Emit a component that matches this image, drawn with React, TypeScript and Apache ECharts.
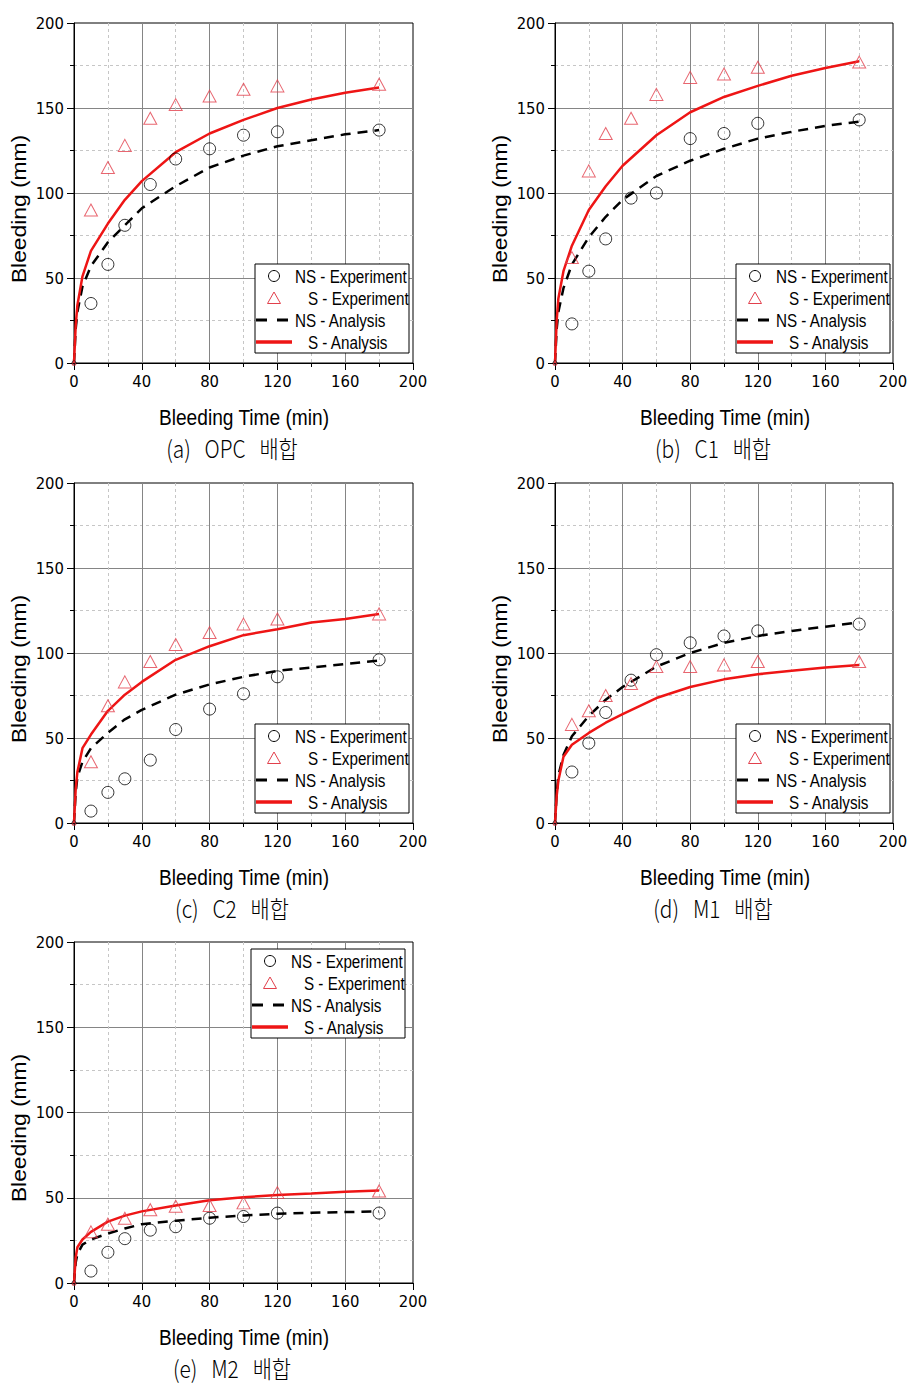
import React, { useEffect, useRef } from "react";
import * as echarts from "echarts";

// ---------- data ----------
const T_EXP = [0, 10, 20, 30, 45, 60, 80, 100, 120, 180];
const T_ANA = [0, 1, 2, 5, 10, 20, 30, 40, 60, 80, 100, 120, 140, 160, 180];

const OPC_NS_EXP = [0, 35, 58, 81, 105, 120, 126, 134, 136, 137];
const OPC_S_EXP = [0, 90, 115, 128, 144, 152, 157, 161, 163, 164];
const OPC_NS_ANA = [0, 20, 30, 45, 57, 71, 81, 91, 104, 115, 122, 127.5, 131, 134.5, 137];
const OPC_S_ANA = [0, 22, 34, 51, 66, 82, 96, 107, 124, 135, 143, 150, 155, 159, 162];

const C1_NS_EXP = [0, 23, 54, 73, 97, 100, 132, 135, 141, 143];
const C1_S_EXP = [0, 62, 113, 135, 144, 158, 168, 170, 174, 177];
const C1_NS_ANA = [0, 20, 30, 44, 58, 74, 86, 96, 110, 119, 126, 132, 136, 139.5, 142];
const C1_S_ANA = [0, 25, 38, 54, 69, 90, 104, 116, 134, 147.5, 156.5, 163, 169, 173.5, 177.5];

const C2_NS_EXP = [0, 7, 18, 26, 37, 55, 67, 76, 86, 96];
const C2_S_EXP = [0, 36, 69, 83, 95, 105, 112, 117, 120, 123];
const C2_NS_ANA = [0, 18, 27, 36, 44, 53, 61, 66.5, 75.5, 81.5, 86, 89.5, 91.5, 93.5, 95.5];
const C2_S_ANA = [0, 20, 30, 44, 52, 66, 75.5, 83, 96, 104, 110.5, 114, 118, 120, 123];

const M1_NS_EXP = [0, 30, 47, 65, 84, 99, 106, 110, 113, 117];
const M1_S_EXP = [0, 58, 66, 75, 82, 92, 92, 93, 95, 95];
const M1_NS_ANA = [0, 17, 28, 40, 51, 63, 72.5, 80, 92, 100, 106, 110, 113, 115.5, 118];
const M1_S_ANA = [0, 16, 25, 39, 46, 53, 59, 64, 73.5, 80, 84.5, 87.5, 89.5, 91.5, 93];

const M2_NS_EXP = [0, 7, 18, 26, 31, 33, 38, 39, 41, 41];
const M2_S_EXP = [0, 30, 34.5, 38, 43, 45, 45.5, 47, 53, 54];
const M2_NS_ANA = [0, 12, 17, 22.5, 25.5, 29, 32, 34.5, 36.5, 38.3, 39.6, 40.6, 41.2, 41.6, 42];
const M2_S_ANA = [0, 15, 21, 25.5, 30, 36, 39.5, 42, 45.5, 48.5, 50.3, 51.6, 52.5, 53.5, 54.3];

const CAPTIONS = ["(a)   OPC   배합", "(b)   C1   배합", "(c)   C2   배합", "(d)   M1   배합", "(e)   M2   배합"];
const X_TITLE = "Bleeding Time (min)";
const Y_TITLE = "Bleeding (mm)";
const LEGEND_NAMES = ["NS - Experiment", "S - Experiment", "NS - Analysis", "S - Analysis"];

const PANEL_DATA = [
  [OPC_NS_EXP, OPC_S_EXP, OPC_NS_ANA, OPC_S_ANA],
  [C1_NS_EXP, C1_S_EXP, C1_NS_ANA, C1_S_ANA],
  [C2_NS_EXP, C2_S_EXP, C2_NS_ANA, C2_S_ANA],
  [M1_NS_EXP, M1_S_EXP, M1_NS_ANA, M1_S_ANA],
  [M2_NS_EXP, M2_S_EXP, M2_NS_ANA, M2_S_ANA],
];

// ---------- layout ----------
const LAYOUT = [
  { left: 74, top: 23, width: 339, height: 340, legendTop: false },
  { left: 555, top: 23, width: 338, height: 340, legendTop: false },
  { left: 74, top: 483, width: 339, height: 340, legendTop: false },
  { left: 555, top: 483, width: 338, height: 340, legendTop: false },
  { left: 74, top: 942, width: 339, height: 341, legendTop: true },
];

const RED = "#ee1515";
const TRI_RED = "#e2404c";
const LABEL_FONT = '"Liberation Sans Narrow", "Arial Narrow", "DejaVu Sans Condensed", "Liberation Sans", Arial, sans-serif';
const TEXT_FONT = '"Liberation Sans", Arial, sans-serif';
const SQ = 0.87;
const LZ = 100;

function txt(x: number, y: number, text: string, size: number, align: string, extra: any = {}) {
  return {
    type: "text",
    x,
    y,
    z: LZ + 1,
    scaleX: SQ,
    ...extra,
    style: {
      text,
      font: `${size}px ${TEXT_FONT}`,
      fill: "#000",
      align,
      verticalAlign: "middle",
      textAlign: align,
      textVerticalAlign: "middle",
    },
  };
}

function legendGroup(x: number, y: number) {
  return {
    type: "group",
    x,
    y,
    z: LZ,
    children: [
      { type: "rect", z: LZ, shape: { x: 0, y: 0, width: 154, height: 89 }, style: { fill: "#fff", stroke: "#000", lineWidth: 1 } },
      { type: "circle", z: LZ + 1, shape: { cx: 19, cy: 12, r: 5.5 }, style: { fill: "none", stroke: "#000", lineWidth: 1 } },
      txt(40, 12.5, LEGEND_NAMES[0], 17.5, "left"),
      { type: "polygon", z: LZ + 1, shape: { points: [[19, 28], [12.5, 39.5], [25.5, 39.5]] }, style: { fill: "none", stroke: TRI_RED, lineWidth: 1 } },
      txt(53, 34.5, LEGEND_NAMES[1], 17.5, "left"),
      { type: "line", z: LZ + 1, shape: { x1: 1, y1: 56, x2: 33, y2: 56 }, style: { stroke: "#000", lineWidth: 3, lineDash: [11, 10] } },
      txt(40, 56.5, LEGEND_NAMES[2], 17.5, "left"),
      { type: "line", z: LZ + 1, shape: { x1: 1, y1: 78, x2: 37, y2: 78 }, style: { stroke: RED, lineWidth: 3.5 } },
      txt(53, 78.5, LEGEND_NAMES[3], 17.5, "left"),
    ],
  };
}

function buildOption() {
  const grid: any[] = [];
  const xAxis: any[] = [];
  const yAxis: any[] = [];
  const series: any[] = [];
  const graphic: any[] = [];

  LAYOUT.forEach((L, i) => {
    grid.push({
      left: L.left,
      top: L.top,
      width: L.width,
      height: L.height,
      show: true,
      borderColor: "#000",
      borderWidth: 1,
      backgroundColor: "transparent",
      containLabel: false,
    });
    const common = {
      gridIndex: i,
      type: "value",
      min: 0,
      max: 200,
      axisLine: { show: true, onZero: false, lineStyle: { color: "#000", width: 1 } },
      axisTick: { show: true, inside: false, length: 7, lineStyle: { color: "#000", width: 1 } },
      minorTick: { show: true, splitNumber: 2, length: 4, lineStyle: { color: "#000", width: 1 } },
      axisLabel: { color: "#000", fontSize: 16.5, fontFamily: LABEL_FONT, margin: 10 },
      splitLine: { show: true, showMinLine: false, showMaxLine: false, lineStyle: { color: "#858585", width: 1 } },
      minorSplitLine: { show: true, lineStyle: { color: "#c6c6c6", width: 1, type: [3, 3] } },
    };
    xAxis.push({ ...common, interval: 40 });
    yAxis.push({ ...common, interval: 50 });

    const [nsE, sE, nsA, sA] = PANEL_DATA[i];
    const expPts = (vals: number[]) =>
      vals.map((v, k) => (T_EXP[k] === 0 ? { value: [T_EXP[k], v], symbolSize: 4 } : { value: [T_EXP[k], v] }));
    const anaPts = (vals: number[]) => vals.map((v, k) => [T_ANA[k], v]);

    series.push({
      name: LEGEND_NAMES[2],
      type: "line",
      xAxisIndex: i,
      yAxisIndex: i,
      data: anaPts(nsA),
      symbol: "none",
      smooth: false,
      lineStyle: { color: "#000", width: 2.5, type: [10, 7] },
      z: 3,
    });
    series.push({
      name: LEGEND_NAMES[3],
      type: "line",
      xAxisIndex: i,
      yAxisIndex: i,
      data: anaPts(sA),
      symbol: "none",
      smooth: false,
      lineStyle: { color: RED, width: 2.5 },
      z: 3,
    });
    series.push({
      name: LEGEND_NAMES[0],
      type: "scatter",
      xAxisIndex: i,
      yAxisIndex: i,
      data: expPts(nsE),
      symbol: "circle",
      symbolSize: 12,
      itemStyle: { color: "rgba(0,0,0,0)", borderColor: "#000", borderWidth: 1 },
      z: 4,
    });
    series.push({
      name: LEGEND_NAMES[1],
      type: "scatter",
      xAxisIndex: i,
      yAxisIndex: i,
      data: expPts(sE),
      symbol: "triangle",
      symbolSize: [13, 12],
      itemStyle: { color: "rgba(0,0,0,0)", borderColor: TRI_RED, borderWidth: 1 },
      z: 4,
    });

    const bottom = L.top + L.height;
    graphic.push(txt(L.left + 170, bottom + 53.5, X_TITLE, 22, "center"));
    graphic.push({
      type: "text",
      x: L.left - 54,
      y: L.top + 186,
      rotation: Math.PI / 2,
      scaleY: SQ,
      style: {
        text: Y_TITLE,
        font: `22.8px ${TEXT_FONT}`,
        fill: "#000",
        align: "center",
        verticalAlign: "middle",
        textAlign: "center",
        textVerticalAlign: "middle",
      },
    });
    graphic.push({
      type: "text",
      x: L.left + 158,
      y: bottom + 84,
      scaleX: SQ,
      style: {
        text: CAPTIONS[i],
        font: `300 24px "Noto Sans CJK KR", "Noto Sans", sans-serif`,
        fill: "#000",
        align: "center",
        verticalAlign: "middle",
        textAlign: "center",
        textVerticalAlign: "middle",
      },
    });
    if (L.legendTop) {
      graphic.push(legendGroup(L.left + 177, L.top + 7));
    } else {
      graphic.push(legendGroup(L.left + 181, bottom - 99));
    }
  });

  return {
    animation: false,
    backgroundColor: "#fff",
    grid,
    xAxis,
    yAxis,
    series,
    graphic,
  };
}

export default function App() {
  const ref = useRef<HTMLDivElement>(null);
  useEffect(() => {
    document.body.style.margin = "0";
    if (!ref.current) return;
    const chart = echarts.init(ref.current, undefined, { renderer: "svg" });
    chart.setOption(buildOption() as any);
    return () => chart.dispose();
  }, []);
  return <div ref={ref} style={{ width: 920, height: 1384 }} />;
}
